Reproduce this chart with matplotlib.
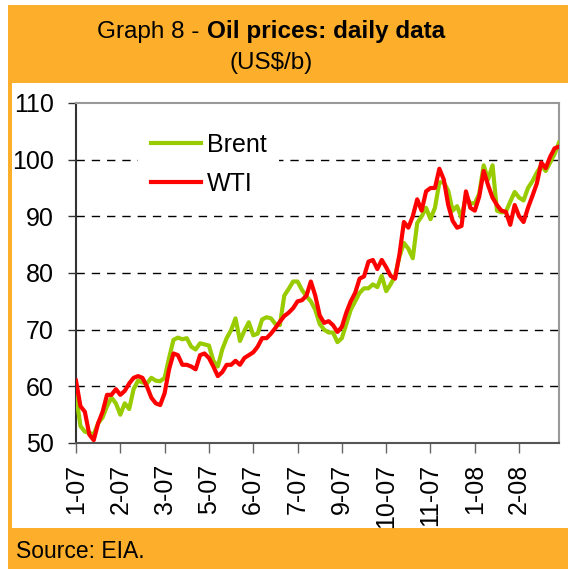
import matplotlib
matplotlib.use("Agg")
import matplotlib.pyplot as plt
from matplotlib.patches import Rectangle
import numpy as np

plt.rcParams['font.family'] = ['Liberation Sans', 'DejaVu Sans']

# ---------- data (one value every ~3 trading days) ----------
wti = [61, 56.5, 55.5, 51.5, 50.5, 53.5, 55.5, 58.5, 58.5, 59.5,
       58.5, 59.2, 60.5, 61.5, 61.8, 61.5, 60, 58, 57, 56.7,
       58.8, 63, 65.8, 65.5, 63.8, 63.8, 63.5, 63, 65.5, 65.8,
       65, 63.5, 61.8, 62.5, 63.8, 63.8, 64.5, 63.8, 65, 65.5,
       66, 67, 68.5, 68.5, 69.3, 70.3, 71.4, 72.4, 73, 73.8,
       75, 75.2, 76, 78.5, 76, 72.5, 71.2, 71.5, 70.8, 69.6,
       70.5, 73, 75, 76.5, 79, 79.4, 82, 82.3, 80.7, 82.3,
       81, 79.5, 79, 83.3, 89, 88, 90, 93, 91, 94.4,
       95, 95, 98.4, 96.5, 92, 89.2, 88, 88.3, 94.4, 91.5,
       91, 93.5, 98, 95.5, 93.3, 92, 91, 90.8, 88.5, 92,
       90, 89, 91.5, 93.6, 95.8, 99.5, 98.5, 100.5, 102, 102.3]

brent = [58.5, 53, 52, 51.8, 51.5, 53.5, 54.5, 56.5, 58, 57,
         55, 57, 56, 59.5, 61, 60.7, 60.5, 61.5, 61, 60.9,
         61.5, 65, 68.2, 68.6, 68.3, 68.5, 67, 66.5, 67.6, 67.4,
         67.2, 64.5, 63.5, 66.5, 68.5, 69.9, 72, 68, 69.8, 71.3,
         69, 69.3, 71.8, 72.2, 72, 71, 70.8, 76, 77.2, 78.5,
         78.5, 77, 75.9, 75, 73.5, 71, 70, 69.5, 69.5, 67.8,
         68.5, 71, 73.5, 75, 76.5, 77.3, 77.3, 78, 77.5, 79.5,
         76.8, 78, 79.5, 82.9, 85.3, 84.3, 82.6, 88.8, 90, 91.5,
         89.5, 91.5, 96, 96, 94.5, 91, 91.8, 89.7, 93.6, 92.3,
         92.3, 94, 99, 96.5, 99, 91, 90.7, 90.8, 92.6, 94.3,
         93.3, 92.8, 95, 96.2, 97.7, 99, 98, 99.5, 101, 103]

tick_pos = [0, 10, 20, 30, 40, 50, 60, 70, 80, 90, 100]
tick_labels = ["1-07", "2-07", "3-07", "5-07", "6-07", "7-07",
               "9-07", "10-07", "11-07", "1-08", "2-08"]

ORANGE = "#FDAF2B"
W, H = 568, 569

fig = plt.figure(figsize=(W / 100, H / 100), dpi=100, facecolor="white")

# orange frame and white inner panel
fig.add_artist(Rectangle((8 / W, 0), 1, (H - 5) / H, transform=fig.transFigure,
                         facecolor=ORANGE, edgecolor="none", zorder=-2))
fig.add_artist(Rectangle((12 / W, (H - 528) / H), 1, (528 - 83) / H,
                         transform=fig.transFigure, facecolor="white",
                         edgecolor="none", zorder=-1))

ax = fig.add_axes([76 / W, (H - 443) / H, (559 - 76) / W, (443 - 103) / H])
x = np.arange(len(wti))
ax.plot(x, brent, color="#99CC00", lw=3, label="Brent", zorder=3)
ax.plot(x, wti, color="#FF0000", lw=3, label="WTI", zorder=4)

ax.set_xlim(0, len(wti) - 1)
ax.set_ylim(50, 110)
ax.set_yticks(range(50, 111, 10))
ax.set_xticks(tick_pos)
ax.set_xticklabels(tick_labels, rotation=90)

for v in range(60, 101, 10):
    ax.axhline(v, color="black", lw=1, linestyle=(0, (6, 5)), zorder=1)

ax.tick_params(axis="y", direction="out", length=6, width=1, pad=10,
               labelsize=18, color="#333333")
ax.tick_params(axis="x", direction="out", length=7, width=1, pad=8,
               labelsize=18, color="#666666")
ax.spines["left"].set_color("#333333")
ax.spines["bottom"].set_color("#555555")
ax.spines["top"].set_color("#999999")
ax.spines["right"].set_color("#999999")
for s in ax.spines.values():
    s.set_linewidth(1.5)

leg = ax.legend(loc="upper left", bbox_to_anchor=(138 / W, (H - 120) / H),
                bbox_transform=fig.transFigure, fontsize=18, frameon=True,
                facecolor="white", edgecolor="none", framealpha=1,
                fancybox=False, handlelength=2.0, handletextpad=0.25,
                labelspacing=0.62, borderpad=0.5, borderaxespad=0)
leg.set_zorder(5)

# title
fig.text(199 / W, (H - 38) / H, "Graph 8 -", ha="right", va="baseline", fontsize=17.5)
fig.text(207 / W, (H - 38) / H, "Oil prices: daily data", ha="left", va="baseline",
         fontsize=17.5, fontweight="bold")
fig.text(271 / W, (H - 68.5) / H, "(US$/b)", ha="center", va="baseline", fontsize=17.5)

fig.text(16 / W, (H - 558) / H, "Source: EIA.", ha="left", va="baseline", fontsize=16.5)

fig.savefig("out.png", dpi=100, facecolor="white")
